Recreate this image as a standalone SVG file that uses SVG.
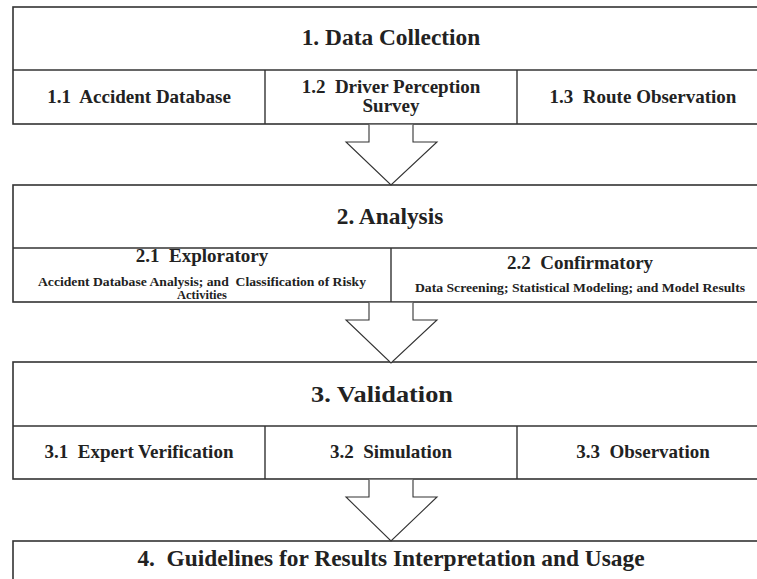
<svg xmlns="http://www.w3.org/2000/svg" width="757" height="579" viewBox="0 0 757 579">
<style>
.box{fill:#fff;stroke:#333;stroke-width:1.6}
.ln{stroke:#333;stroke-width:1.4;fill:none}
.arr{fill:#fff;stroke:#333;stroke-width:1.1}
text{font-family:"Liberation Serif","Times New Roman",serif;font-weight:bold;fill:#222;text-anchor:middle}
.t{font-size:23.4px}
.s{font-size:19px}
.m{font-size:12.5px}
</style>
<rect width="757" height="579" fill="#fff"/>
<g id="stage1">
<rect class="box" x="13" y="7" width="760" height="117"/>
<line class="ln" x1="13" y1="70" x2="773" y2="70"/>
<line class="ln" x1="265" y1="70" x2="265" y2="124"/>
<line class="ln" x1="517" y1="70" x2="517" y2="124"/>
<text class="t" x="391" y="45">1. Data Collection</text>
<text class="s" x="139" y="103" xml:space="preserve">1.1  Accident Database</text>
<text class="s" x="391" y="93" xml:space="preserve">1.2  Driver Perception</text>
<text class="s" x="391" y="112">Survey</text>
<text class="s" x="643" y="103" xml:space="preserve">1.3  Route Observation</text>
</g>
<g id="stage2">
<rect class="box" x="13" y="185" width="760" height="117"/>
<line class="ln" x1="13" y1="248" x2="773" y2="248"/>
<line class="ln" x1="391" y1="248" x2="391" y2="302"/>
<text class="t" x="390" y="224">2. Analysis</text>
<text class="s" x="202" y="262" xml:space="preserve">2.1  Exploratory</text>
<text class="m" x="202" y="286" textLength="328" lengthAdjust="spacingAndGlyphs" xml:space="preserve">Accident Database Analysis; and  Classification of Risky</text>
<text class="m" x="202" y="299">Activities</text>
<text class="s" x="580" y="269" xml:space="preserve">2.2  Confirmatory</text>
<text class="m" x="580" y="292" textLength="330" lengthAdjust="spacingAndGlyphs">Data Screening; Statistical Modeling; and Model Results</text>
</g>
<g id="stage3">
<rect class="box" x="13" y="362" width="760" height="117"/>
<line class="ln" x1="13" y1="426" x2="773" y2="426"/>
<line class="ln" x1="265" y1="426" x2="265" y2="479"/>
<line class="ln" x1="517" y1="426" x2="517" y2="479"/>
<text class="t" x="382" y="402" textLength="142" lengthAdjust="spacingAndGlyphs">3. Validation</text>
<text class="s" x="139" y="458" xml:space="preserve">3.1  Expert Verification</text>
<text class="s" x="391" y="458" xml:space="preserve">3.2  Simulation</text>
<text class="s" x="643" y="458" xml:space="preserve">3.3  Observation</text>
</g>
<g id="stage4">
<rect class="box" x="13" y="541" width="760" height="70"/>
<text class="t" x="391" y="566" xml:space="preserve">4.  Guidelines for Results Interpretation and Usage</text>
</g>
<g id="connectors">
<path class="arr" d="M369,124.8 V142 H346 L391,185 L437,142 H413 V124.8"/>
<path class="arr" d="M369,302.8 V320 H346 L391,363 L437,320 H413 V302.8"/>
<path class="arr" d="M369,479.8 V497 H346 L391,541 L437,497 H413 V479.8"/>
</g>
</svg>
